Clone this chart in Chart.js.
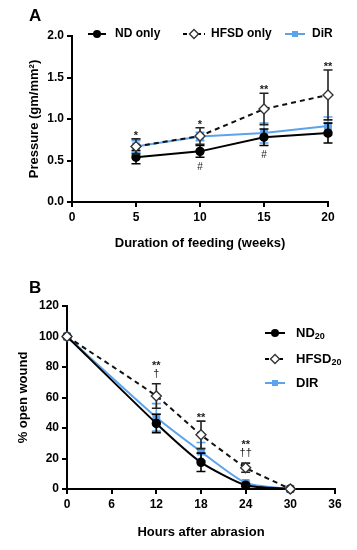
<!DOCTYPE html>
<html><head><meta charset="utf-8">
<script src="https://cdn.jsdelivr.net/npm/chart.js@4.4.1/dist/chart.umd.min.js"></script>
<style>
body{margin:0;background:#fff;width:357px;height:550px;overflow:hidden;position:relative}
canvas{position:absolute;left:0}
#ca{top:0}
#cb{top:270px}
</style></head><body>
<canvas id="ca" width="357" height="265"></canvas>
<canvas id="cb" width="357" height="280"></canvas>
<script>
// ---------- Panel A data ----------
const weeks = [5, 10, 15, 20];
const ndOnly = [0.54, 0.61, 0.78, 0.83];
const ndOnlyErr = [0.08, 0.07, 0.10, 0.12];
const hfsdOnly = [0.67, 0.795, 1.12, 1.29];
const hfsdOnlyErr = [0.09, 0.10, 0.19, 0.30];
const dirA = [0.67, 0.79, 0.83, 0.915];
const dirAErr = [0.07, 0.05, 0.12, 0.11];
const hfsdSigA = [['*'], ['*'], ['**'], ['**']];
const ndSigA = ['', '#', '#', ''];

// ---------- Panel B data ----------
const hours = [0, 12, 18, 24, 30];
const nd20 = [100, 43, 17.5, 2.5, 0];
const nd20Err = [0, 6, 6, 1, 0];
const hfsd20 = [100, 61, 35.5, 14, 0];
const hfsd20Err = [0, 8, 9, 3, 0];
const dirB = [100, 47, 24.5, 4, 0];
const dirBErr = [0, 9, 6, 1, 0];
const hfsdSigB = [[], ['\u2020', '**'], ['**'], ['\u2020\u2020', '**'], []];

const BLUE = '#5ba3ec';
const FONT = "'Liberation Sans', Arial, sans-serif";

function pts(xs, ys) { return xs.map((x, i) => ({x: x, y: ys[i]})); }

const errorBars = {
  id: 'errorBars',
  beforeDatasetDraw(chart, args) {
    const ds = chart.data.datasets[args.index];
    if (!ds.err) return;
    const ctx = chart.ctx, ys = chart.scales.y;
    ctx.save();
    ctx.strokeStyle = ds.errColor || ds.borderColor;
    ctx.lineWidth = 1.6;
    args.meta.data.forEach((p, i) => {
      const e = ds.err[i];
      if (!e) return;
      const v = ds.data[i].y;
      const t = ys.getPixelForValue(v + e), b = ys.getPixelForValue(v - e);
      ctx.beginPath();
      ctx.moveTo(p.x, t); ctx.lineTo(p.x, b);
      ctx.moveTo(p.x - 4.5, t); ctx.lineTo(p.x + 4.5, t);
      ctx.moveTo(p.x - 4.5, b); ctx.lineTo(p.x + 4.5, b);
      ctx.stroke();
    });
    ctx.restore();
  }
};

const sigMarks = {
  id: 'sigMarks',
  afterDatasetsDraw(chart) {
    const ctx = chart.ctx, ys = chart.scales.y;
    ctx.save();
    ctx.fillStyle = '#222';
    ctx.textAlign = 'center';
    ctx.textBaseline = 'middle';
    chart.data.datasets.forEach((ds, di) => {
      const meta = chart.getDatasetMeta(di);
      if (ds.sigAbove) {
        meta.data.forEach((p, i) => {
          const lines = ds.sigAbove[i] || [];
          let cur = ys.getPixelForValue(ds.data[i].y + ds.err[i]) - 4;
          lines.forEach(s => {
            if (s.indexOf('*') >= 0) {
              ctx.font = 'bold 11px ' + FONT;
              ctx.fillText(s, p.x, cur + 1);
              cur -= 8;
            } else {
              ctx.font = '11px ' + FONT;
              ctx.fillText(s, p.x, cur - 6);
              cur -= 15;
            }
          });
        });
      }
      if (ds.sigBelow) {
        meta.data.forEach((p, i) => {
          const s = ds.sigBelow[i];
          if (!s) return;
          ctx.font = '10px ' + FONT;
          ctx.fillText(s, p.x, ys.getPixelForValue(ds.data[i].y - ds.err[i]) + 10);
        });
      }
    });
    ctx.restore();
  }
};

function drawMarker(ctx, type, x, y) {
  ctx.save();
  if (type === 'circle') {
    ctx.fillStyle = '#000';
    ctx.beginPath(); ctx.arc(x, y, 4, 0, Math.PI * 2); ctx.fill();
  } else if (type === 'diamond') {
    ctx.fillStyle = '#fff'; ctx.strokeStyle = '#333'; ctx.lineWidth = 1.4;
    ctx.beginPath(); ctx.moveTo(x, y - 4.5); ctx.lineTo(x + 4.5, y); ctx.lineTo(x, y + 4.5); ctx.lineTo(x - 4.5, y); ctx.closePath();
    ctx.fill(); ctx.stroke();
  } else {
    ctx.fillStyle = BLUE;
    ctx.fillRect(x - 3, y - 3, 6, 6);
  }
  ctx.restore();
}

const customLegend = {
  id: 'customLegend',
  afterDraw(chart, args, opts) {
    const ctx = chart.ctx;
    ctx.save();
    ctx.fillStyle = '#000';
    ctx.font = 'bold 17px ' + FONT;
    ctx.textBaseline = 'middle';
    ctx.textAlign = 'left';
    ctx.fillText(opts.letter, opts.letterX, opts.letterY);
    opts.items.forEach(it => {
      ctx.save();
      ctx.strokeStyle = it.color; ctx.lineWidth = 2;
      if (it.dash) ctx.setLineDash([4, 3]);
      ctx.beginPath(); ctx.moveTo(it.x0, it.y); ctx.lineTo(it.x1, it.y); ctx.stroke();
      ctx.restore();
      drawMarker(ctx, it.marker, (it.x0 + it.x1) / 2, it.y);
      ctx.fillStyle = '#000';
      ctx.font = 'bold ' + opts.size + 'px ' + FONT;
      ctx.textBaseline = 'middle';
      ctx.textAlign = 'left';
      ctx.fillText(it.label, it.tx, it.y);
      if (it.sub) {
        const w = ctx.measureText(it.label).width;
        ctx.font = 'bold ' + Math.round(opts.size * 0.7) + 'px ' + FONT;
        ctx.fillText(it.sub, it.tx + w, it.y + 4);
      }
    });
    ctx.restore();
  }
};

function axis(min, max, step, title, fit, fmt) {
  return {
    type: 'linear', min: min, max: max,
    afterFit: fit,
    ticks: {stepSize: step, color: '#000', padding: 3, font: {family: FONT, weight: 'bold', size: 12},
            callback: fmt || (v => v)},
    grid: {drawOnChartArea: false, color: '#000', lineWidth: 2, tickLength: 5},
    border: {color: '#000', width: 2},
    title: {display: true, text: title, color: '#000', font: {family: FONT, weight: 'bold', size: 13}, padding: {top: 2, bottom: 4}}
  };
}

function lineDs(label, xs, ys, err, opt) {
  return Object.assign({
    label: label, data: pts(xs, ys), err: err, clip: false,
    borderWidth: 2, pointBorderWidth: 1.4, tension: 0
  }, opt);
}

new Chart(document.getElementById('ca'), {
  type: 'line',
  data: {datasets: [
    lineDs('HFSD only', weeks, hfsdOnly, hfsdOnlyErr, {order: 0, borderColor: '#111', borderDash: [5, 4], errColor: '#222',
      pointStyle: 'rectRot', pointRadius: 5, pointBackgroundColor: '#fff', pointBorderColor: '#333', sigAbove: hfsdSigA}),
    lineDs('ND only', weeks, ndOnly, ndOnlyErr, {order: 1, borderColor: '#000', pointStyle: 'circle', pointRadius: 4,
      pointBackgroundColor: '#000', pointBorderColor: '#000', sigBelow: ndSigA}),
    lineDs('DiR', weeks, dirA, dirAErr, {order: 2, borderColor: BLUE, pointStyle: 'rect', pointRadius: 4.5,
      pointBackgroundColor: BLUE, pointBorderColor: BLUE})
  ]},
  options: {
    responsive: false, animation: false,
    layout: {padding: {left: 25, right: 29, top: 36, bottom: 10}},
    plugins: {legend: {display: false}, tooltip: {enabled: false},
      customLegend: {letter: 'A', letterX: 29, letterY: 16, size: 12, items: [
        {label: 'ND only', color: '#000', marker: 'circle', x0: 88, x1: 106, y: 34, tx: 115},
        {label: 'HFSD only', color: '#000', marker: 'diamond', dash: true, x0: 183, x1: 205, y: 34, tx: 211},
        {label: 'DiR', color: BLUE, marker: 'square', x0: 285, x1: 305, y: 34, tx: 312}
      ]}},
    scales: {
      x: axis(0, 20, 5, 'Duration of feeding (weeks)', s => { s.height = 53; }),
      y: axis(0, 2, 0.5, 'Pressure (gm/mm\u00b2)', s => { s.width = 47; }, v => v.toFixed(1))
    }
  },
  plugins: [errorBars, sigMarks, customLegend]
});

new Chart(document.getElementById('cb'), {
  type: 'line',
  data: {datasets: [
    lineDs('HFSD20', hours, hfsd20, hfsd20Err, {order: 0, borderColor: '#111', borderDash: [5, 4], errColor: '#222', tension: 0.15,
      pointStyle: 'rectRot', pointRadius: 5, pointBackgroundColor: '#fff', pointBorderColor: '#333', sigAbove: hfsdSigB}),
    lineDs('ND20', hours, nd20, nd20Err, {order: 1, borderColor: '#000', pointStyle: 'circle', pointRadius: 4, tension: 0.2,
      pointBackgroundColor: '#000', pointBorderColor: '#000'}),
    lineDs('DIR', hours, dirB, dirBErr, {order: 2, borderColor: BLUE, pointStyle: 'rect', pointRadius: 4.5, tension: 0.2,
      pointBackgroundColor: BLUE, pointBorderColor: BLUE})
  ]},
  options: {
    responsive: false, animation: false,
    layout: {padding: {left: 14, right: 22, top: 36, bottom: 6}},
    plugins: {legend: {display: false}, tooltip: {enabled: false},
      customLegend: {letter: 'B', letterX: 29, letterY: 18, size: 13, items: [
        {label: 'ND', sub: '20', color: '#000', marker: 'circle', x0: 265, x1: 285, y: 63, tx: 296},
        {label: 'HFSD', sub: '20', color: '#000', marker: 'diamond', dash: true, x0: 265, x1: 285, y: 89, tx: 296},
        {label: 'DIR', color: BLUE, marker: 'square', x0: 265, x1: 285, y: 113, tx: 296}
      ]}},
    scales: {
      x: axis(0, 36, 6, 'Hours after abrasion', s => { s.height = 55; }),
      y: axis(0, 120, 20, '% open wound', s => { s.width = 53; })
    }
  },
  plugins: [errorBars, sigMarks, customLegend]
});
</script>
</body></html>
